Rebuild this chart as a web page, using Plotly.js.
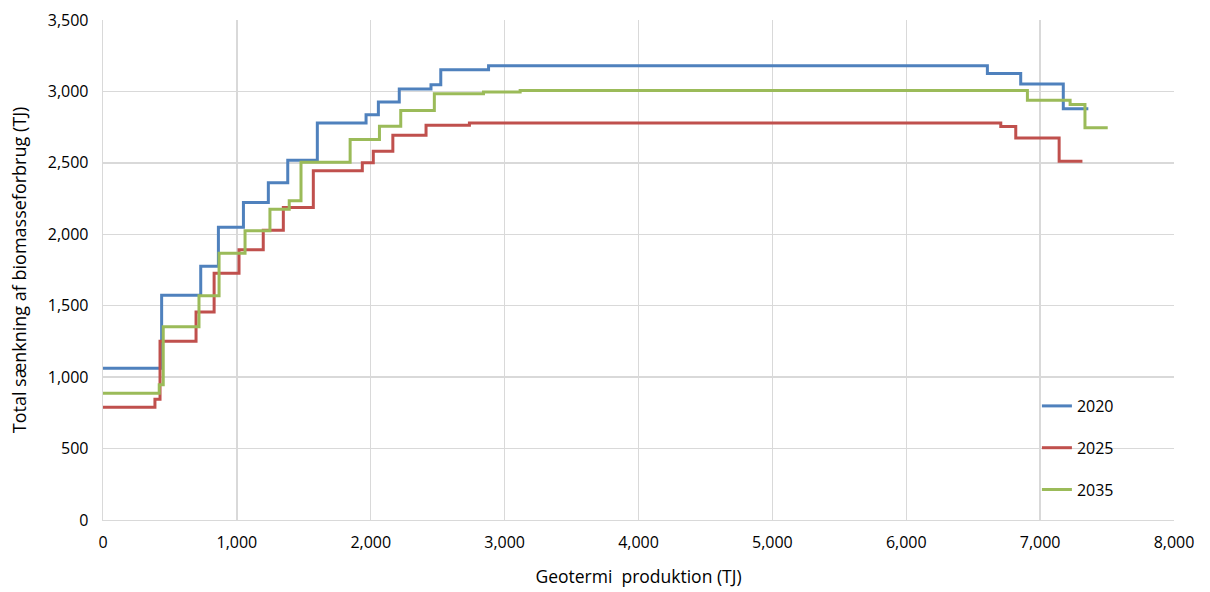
<!DOCTYPE html>
<html>
<head>
<meta charset="utf-8">
<script src="https://cdn.plot.ly/plotly-3.0.1.min.js"></script>
<style>html,body{margin:0;padding:0;background:#fff;}#chart{width:1210px;height:592px;}</style>
</head>
<body>
<div id="chart"></div>
<script>
// Step breakpoints (TJ geothermal production) and values (TJ biomass reduction)
const x2020 = [0, 438, 730, 862, 1049, 1235, 1380, 1601, 1965, 2057, 2213, 2450, 2523, 2880, 6606, 6855, 7173, 7360];
const y2020 = [1063, 1574, 1777, 2049, 2223, 2360, 2518, 2779, 2837, 2926, 3017, 3047, 3151, 3179, 3126, 3052, 2878, 2878];

const x2025 = [0, 388, 426, 695, 830, 1016, 1197, 1347, 1571, 1937, 2019, 2165, 2413, 2737, 6706, 6818, 7142, 7316];
const y2025 = [789, 845, 1251, 1456, 1728, 1891, 2028, 2188, 2445, 2500, 2581, 2693, 2763, 2779, 2755, 2674, 2512, 2512];

const x2035 = [0, 420, 450, 717, 867, 1061, 1247, 1391, 1479, 1846, 2065, 2224, 2475, 2842, 3116, 6905, 7224, 7335, 7505];
const y2035 = [887, 946, 1352, 1570, 1868, 2025, 2176, 2234, 2505, 2663, 2756, 2867, 2984, 2996, 3007, 2938, 2908, 2745, 2745];

const seriesNames = ['2020', '2025', '2035'];
const colors = ['#4f81bd', '#c0504d', '#9bbb59'];
const xs = [x2020, x2025, x2035];
const ys = [y2020, y2025, y2035];

const traces = seriesNames.map((n, i) => ({
  type: 'scatter', mode: 'lines', name: n,
  x: xs[i], y: ys[i],
  line: {shape: 'hv', color: colors[i], width: 3},
  legendgroup: 'g' + i
}));

const font = '"Open Sans", sans-serif';
const layout = {
  width: 1210, height: 592,
  margin: {l: 103, r: 36, t: 20, b: 72},
  paper_bgcolor: '#fff', plot_bgcolor: '#fff',
  font: {family: font, size: 16, color: '#000'},
  showlegend: true,
  legend: {x: 0.872, y: 0.262, xanchor: 'left', yanchor: 'top',
           font: {family: font, size: 16, color: '#000'},
           traceorder: 'grouped', tracegroupgap: 18, bgcolor: 'rgba(0,0,0,0)'},
  xaxis: {
    range: [0, 8000], dtick: 1000, tickformat: ',',
    showgrid: true, gridcolor: '#d9d9d9', gridwidth: 1.3,
    showline: true, linecolor: '#d9d9d9', linewidth: 1.3,
    zeroline: false, ticks: 'outside', ticklen: 7, tickcolor: 'rgba(0,0,0,0)', fixedrange: true,
    tickfont: {size: 16},
    title: {text: 'Geotermi&nbsp;&nbsp;produktion (TJ)', font: {size: 17.5}, standoff: 19}
  },
  yaxis: {
    range: [0, 3500], dtick: 500, tickformat: ',',
    showgrid: true, gridcolor: '#d9d9d9', gridwidth: 1.3,
    showline: true, linecolor: '#d9d9d9', linewidth: 1.3,
    zeroline: false, ticks: 'outside', ticklen: 10, tickcolor: 'rgba(0,0,0,0)',
    tickfont: {size: 16}, fixedrange: true,
    title: {text: 'Total sænkning af biomasseforbrug (TJ)', font: {size: 18}, standoff: 16}
  }
};

Plotly.newPlot('chart', traces, layout, {displayModeBar: false, staticPlot: true});
</script>
</body>
</html>
